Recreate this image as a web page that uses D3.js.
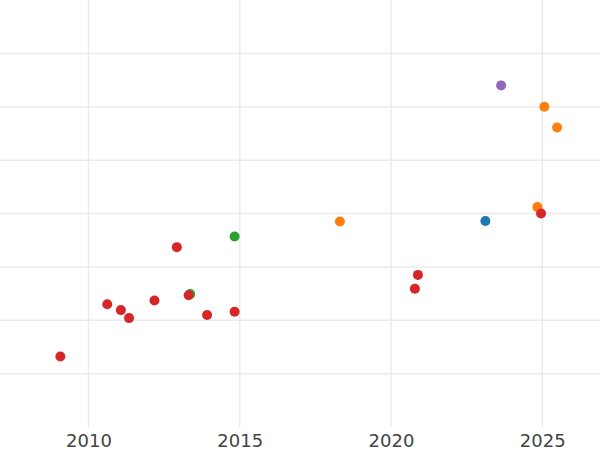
<!DOCTYPE html>
<html><head><meta charset="utf-8">
<script src="https://cdn.jsdelivr.net/npm/d3@7"></script>
<style>html,body{margin:0;padding:0;background:#fff;}svg{display:block;}</style>
</head><body>
<svg id="chart" width="600" height="450"></svg>
<script>
// Data (x = year, y = value in grid units)
const xTicks = [2010, 2015, 2020, 2025];
const yGrid = [1, 2, 3, 4, 5, 6, 7];
const seriesNames = ["blue", "orange", "green", "purple", "red"];
const blueYears = [2023.12];
const blueValues = [3.86];
const orangeYears = [2018.31, 2025.07, 2025.49, 2024.84];
const orangeValues = [3.85, 6.00, 5.61, 4.12];
const greenYears = [2013.36, 2014.83];
const greenValues = [2.49, 3.57];
const purpleYears = [2023.64];
const purpleValues = [6.40];
const redYears = [2009.07, 2010.62, 2011.07, 2011.34, 2012.18, 2012.92, 2013.31, 2013.92, 2014.83, 2020.89, 2020.79, 2024.96];
const redValues = [1.32, 2.30, 2.19, 2.04, 2.37, 3.37, 2.47, 2.10, 2.16, 2.85, 2.59, 4.00];
const colors = {blue:"#1f77b4", orange:"#ff7f0e", green:"#2ca02c", purple:"#9467bd", red:"#d62728"};

const series = [
  {name:"blue", xs: blueYears, ys: blueValues},
  {name:"orange", xs: orangeYears, ys: orangeValues},
  {name:"green", xs: greenYears, ys: greenValues},
  {name:"purple", xs: purpleYears, ys: purpleValues},
  {name:"red", xs: redYears, ys: redValues}
];

const W = 600, H = 427;
const svg = d3.select("#chart");
const x = d3.scaleLinear().domain([2007.074, 2026.909]).range([0, W]);
const y = d3.scaleLinear().domain([0, 8]).range([H, 0]);

const grid = svg.append("g");
grid.selectAll("line.h").data(yGrid).join("line")
  .attr("x1", 0).attr("x2", W)
  .attr("y1", d => y(d)).attr("y2", d => y(d))
  .attr("stroke", "#ebebeb").attr("stroke-width", 1.5);
grid.selectAll("line.v").data(xTicks).join("line")
  .attr("x1", d => x(d)).attr("x2", d => x(d))
  .attr("y1", 0).attr("y2", H)
  .attr("stroke", "#ebebeb").attr("stroke-width", 1.5);

const axis = svg.append("g").attr("transform", `translate(0,${H})`)
  .call(d3.axisBottom(x).tickValues(xTicks).tickFormat(d3.format("d")).tickSize(0).tickPadding(7));
axis.select(".domain").remove();
axis.selectAll("text").attr("font-family", "DejaVu Sans").attr("font-size", 18).attr("fill", "#444");

const pts = svg.append("g");
series.forEach(s => {
  pts.append("g").selectAll("circle").data(s.xs.map((v, i) => [v, s.ys[i]])).join("circle")
    .attr("cx", d => x(d[0])).attr("cy", d => y(d[1])).attr("r", 5)
    .attr("fill", colors[s.name]);
});
</script>
</body></html>
